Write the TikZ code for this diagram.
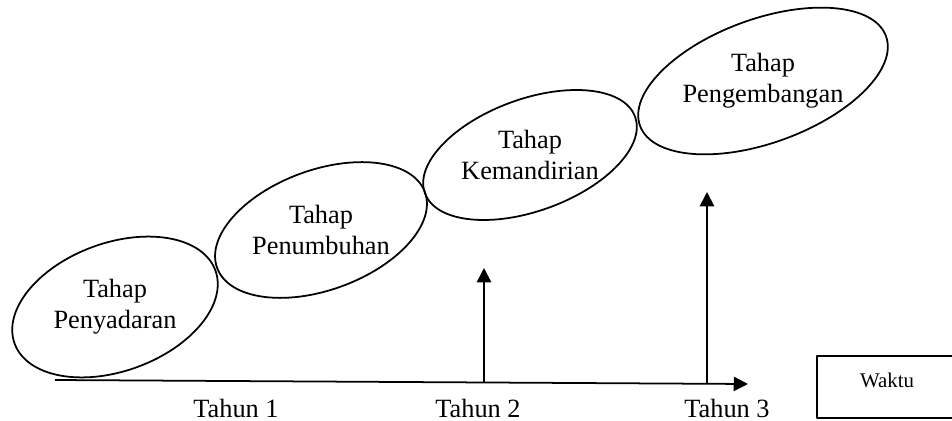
\documentclass[tikz,border=0pt]{standalone}
\usepackage{fontspec}
\setmainfont{Liberation Serif}
\usetikzlibrary{shapes.geometric,arrows.meta}
\tikzset{fase/.style={draw, ellipse, rotate=20, inner sep=0pt},
	teks/.style={align=center, font=\fontsize{12}{14}\selectfont}}
\begin{document}
\begin{tikzpicture}[x=0.016cm, y=-0.016cm, line width=.8pt, line join=round, >={Triangle[width=6.5pt,length=6.5pt]}]
	\clip (0,0) rectangle (952,421);
	% tahap
	\node[fase, minimum width=3.42cm, minimum height=2.05cm] (e1) at (115,307) {};
	\node[fase, minimum width=3.54cm, minimum height=1.92cm] (e2) at (321,230) {};
	\node[fase, minimum width=3.58cm, minimum height=1.79cm] (e3) at (530,155) {};
	\node[fase, minimum width=4.19cm, minimum height=1.98cm] (e4) at (763,81) {};
	\node[teks] (p1) at (e1) {Tahap\\Penyadaran};
	\node[teks] (p2) at (e2) {Tahap\\Penumbuhan};
	\node[teks] (p3) at (e3) {Tahap\\Kemandirian};
	\node[teks] (p4) at (e4) {Tahap\\Pengembangan};
	% sumbu waktu
	\coordinate (o) at (55,380);
	\coordinate (ujung) at (748,384);
	\coordinate (t2) at (484,382);
	\coordinate (t3) at (707,383);
	\coordinate (a2) at (484,268);
	\coordinate (a3) at (707,192);
	\draw[->] (o) -- (ujung);
	\draw[->] (t2) -- (a2);
	\draw[->] (t3) -- (a3);
	\node[teks] (th1) at (236,408) {Tahun 1};
	\node[teks] (th2) at (478,408) {Tahun 2};
	\node[teks] (th3) at (727,408) {Tahun 3};
	\node[draw, minimum width=2.24cm, minimum height=0.99cm, text depth=6.4pt, font=\fontsize{9.5}{11}\selectfont] (waktu) at (887,387) {Waktu};
\end{tikzpicture}
\end{document}
